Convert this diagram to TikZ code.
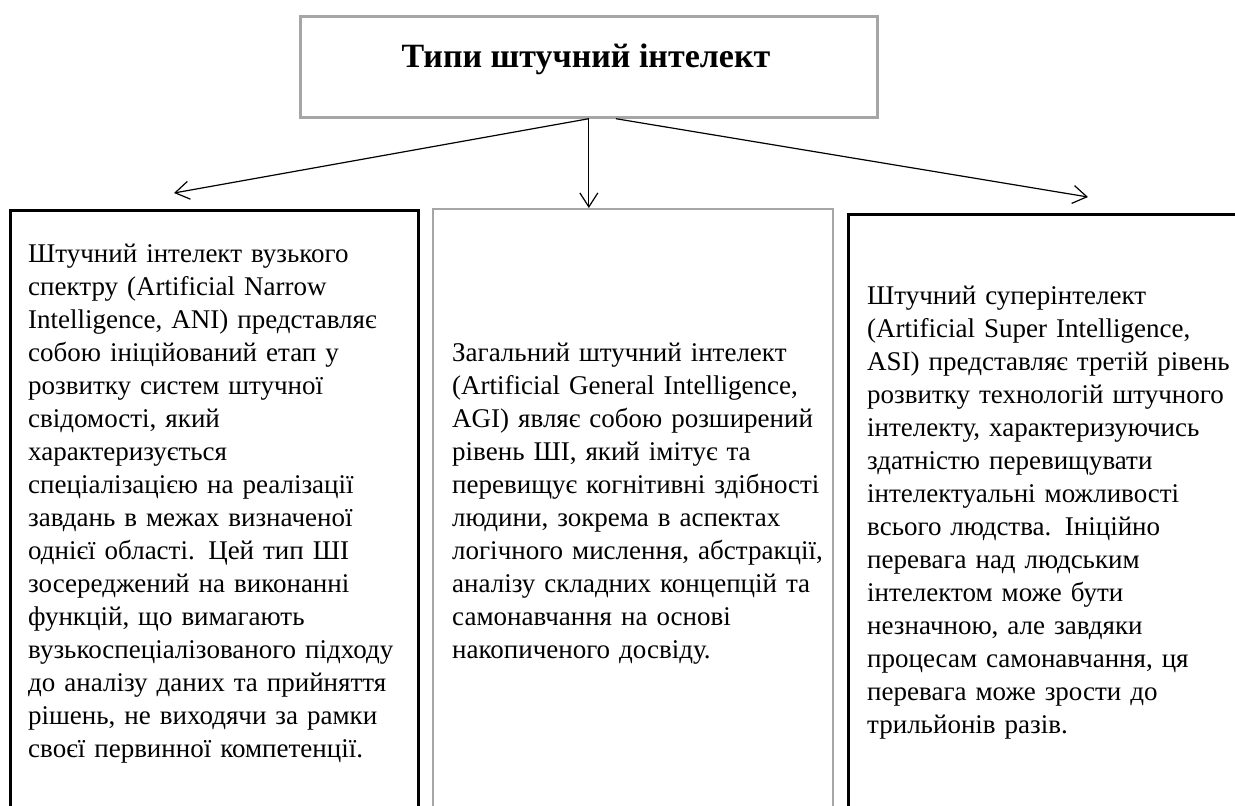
\documentclass[tikz,border=0pt]{standalone}
\usepackage{fontspec}
\setmainfont{Liberation Serif}
\usetikzlibrary{arrows.meta,calc}
\definecolor{boxgray}{HTML}{A6A6A6}
\begin{document}
\begin{tikzpicture}[x=1pt,y=-1pt,
  topbox/.style={draw=boxgray, line width=2.7pt, rectangle, inner sep=0pt, anchor=north west},
  greybox/.style={draw=boxgray, line width=2pt, rectangle, inner sep=0pt, anchor=north west},
  blackbox/.style={draw=black, line width=2.5pt, rectangle, inner sep=0pt, anchor=north west},
  titletext/.style={anchor=base, inner sep=0pt, font=\fontsize{34}{40}\selectfont\bfseries},
  bodytext/.style={anchor=north west, inner sep=0pt, align=left, text width=400pt, font=\fontsize{27}{33}\selectfont},
  arr/.style={draw, line width=1.2pt, -{Straight Barb[length=14pt,width=18pt]}}
]
\useasboundingbox (0,0) rectangle (1235,806);
\clip (0,0) rectangle (1235,806);
\fill[white] (0,0) rectangle (1235,806);

% top box and title
\node[topbox, minimum width=577pt, minimum height=101pt] (top) at (299,15) {};
\node[titletext] (title) at (586,67) {Типи штучний інтелект};

% lower boxes (run past the lower edge)
\node[blackbox, minimum width=408pt, minimum height=640pt] (ani) at (9,209) {};
\node[greybox, minimum width=400pt, minimum height=640pt] (agi) at (432,208) {};
\node[blackbox, minimum width=420pt, minimum height=640pt] (asi) at (847,213) {};

% texts
\node[bodytext] (anitext) at (28,239) {\strut Штучний інтелект вузького\\
спектру (Artificial Narrow\\
Intelligence, ANI) представляє\\
собою ініційований етап у\\
розвитку систем штучної\\
свідомості, який\\
характеризується\\
спеціалізацією на реалізації\\
завдань в межах визначеної\\
однієї області. Цей тип ШІ\\
зосереджений на виконанні\\
функцій, що вимагають\\
вузькоспеціалізованого підходу\\
до аналізу даних та прийняття\\
рішень, не виходячи за рамки\\
своєї первинної компетенції.};

\node[bodytext] (agitext) at (452,338) {\strut Загальний штучний інтелект\\
(Artificial General Intelligence,\\
AGI) являє собою розширений\\
рівень ШІ, який імітує та\\
перевищує когнітивні здібності\\
людини, зокрема в аспектах\\
логічного мислення, абстракції,\\
аналізу складних концепцій та\\
самонавчання на основі\\
накопиченого досвіду.};

\node[bodytext] (asitext) at (867,281) {\strut Штучний суперінтелект\\
(Artificial Super Intelligence,\\
ASI) представляє третій рівень\\
розвитку технологій штучного\\
інтелекту, характеризуючись\\
здатністю перевищувати\\
інтелектуальні можливості\\
всього людства. Ініційно\\
перевага над людським\\
інтелектом може бути\\
незначною, але завдяки\\
процесам самонавчання, ця\\
перевага може зрости до\\
трильйонів разів.};

% connectors
\coordinate (lefttip) at (174,193);
\coordinate (righttip) at (1088,197);
\coordinate (rightstart) at ($(top.south)+(27,0)$);
\draw[arr] (top.south) -- (lefttip);
\draw[arr] (top.south) -- (top.south |- agi.north);
\draw[arr] (rightstart) -- (righttip);
\end{tikzpicture}
\end{document}
